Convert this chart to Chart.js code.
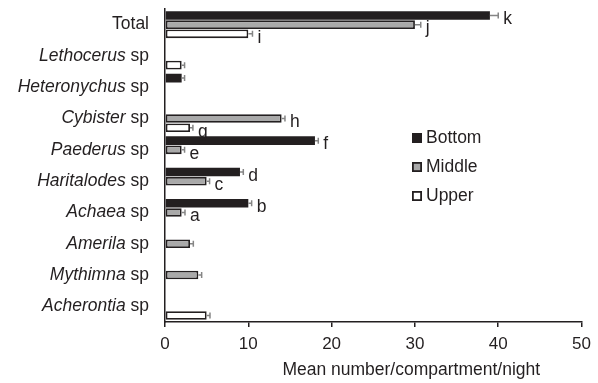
<!DOCTYPE html>
<html><head><meta charset="utf-8">
<script src="https://cdn.jsdelivr.net/npm/chart.js@4"></script>
<style>html,body{margin:0;padding:0;background:#fff}#wrap{width:598px;height:383px;position:relative}</style>
</head><body><div id="wrap"><canvas id="c"></canvas></div>
<script>
const categories = ['Total','Lethocerus sp','Heteronychus sp','Cybister sp','Paederus sp','Haritalodes sp','Achaea sp','Amerila sp','Mythimna sp','Acherontia sp'];
const seriesNames = ['Bottom','Middle','Upper'];
const bottomValues = [39, null, 2, null, 18, 9, 10, null, null, null];
const middleValues = [30, null, null, 14, 2, 5, 2, 3, 4, null];
const upperValues = [10, 2, null, 3, null, null, null, null, null, 5];
const bottomErrors = [1.0, null, 0.35, null, 0.4, 0.4, 0.4, null, null, null];
const middleErrors = [0.7, null, null, 0.4, 0.35, 0.35, 0.4, 0.4, 0.4, null];
const upperErrors = [0.5, 0.35, null, 0.35, null, null, null, null, null, 0.4];
const bottomLetters = ['k', '', '', '', 'f', 'd', 'b', '', '', ''];
const middleLetters = ['j', '', '', 'h', 'e', 'c', 'a', '', '', ''];
const upperLetters = ['i', '', '', 'g', '', '', '', '', '', ''];
const xMin = 0, xMax = 50, xStep = 10;
const xTitle = 'Mean number/compartment/night';

const INK = '#231f20';
const FONT = "'Liberation Sans', Arial, Helvetica, sans-serif";
const FS = 17.5;

const errorsBySeries = [bottomErrors, middleErrors, upperErrors];
const lettersBySeries = [bottomLetters, middleLetters, upperLetters];

const overlay = {
  id: 'overlay',
  afterDatasetsDraw(chart) {
    const ctx = chart.ctx;
    const xs = chart.scales.x;
    chart.data.datasets.forEach((ds, i) => {
      const meta = chart.getDatasetMeta(i);
      ds.data.forEach((v, j) => {
        if (v === null || v === undefined) return;
        const bar = meta.data[j];
        const err = errorsBySeries[i][j] || 0;
        const y = bar.y;
        const x0 = bar.x;
        const x1 = xs.getPixelForValue(v + err);
        ctx.save();
        ctx.strokeStyle = '#858585';
        ctx.lineWidth = 1.5;
        ctx.beginPath();
        ctx.moveTo(x0, y); ctx.lineTo(x1, y);
        ctx.moveTo(x1, y - 3); ctx.lineTo(x1, y + 3);
        ctx.stroke();
        const letter = lettersBySeries[i][j];
        if (letter) {
          ctx.fillStyle = INK;
          ctx.font = FS + 'px ' + FONT;
          ctx.textAlign = 'left';
          ctx.textBaseline = 'middle';
          ctx.fillText(letter, x1 + 5, y + 4);
        }
        ctx.restore();
      });
    });
  },
  afterDraw(chart) {
    const ctx = chart.ctx;
    const ys = chart.scales.y;
    const ca = chart.chartArea;
    ctx.save();
    ctx.fillStyle = INK;
    ctx.textBaseline = 'middle';
    categories.forEach((lab, i) => {
      const y = ys.getPixelForValue(i);
      const right = ca.left - 16;
      if (lab.endsWith(' sp')) {
        const genus = lab.slice(0, -3);
        ctx.font = 'italic ' + FS + 'px ' + FONT;
        const wg = ctx.measureText(genus).width;
        ctx.font = FS + 'px ' + FONT;
        const ws = ctx.measureText(' sp').width;
        const start = right - wg - ws;
        ctx.textAlign = 'left';
        ctx.font = 'italic ' + FS + 'px ' + FONT;
        ctx.fillText(genus, start, y);
        ctx.font = FS + 'px ' + FONT;
        ctx.fillText(' sp', start + wg, y);
      } else {
        ctx.font = FS + 'px ' + FONT;
        ctx.textAlign = 'right';
        ctx.fillText(lab, right, y);
      }
    });
    const lx = 412, ly0 = 138, lstep = 29;
    chart.data.datasets.forEach((ds, i) => {
      const y = ly0 + i * lstep;
      ctx.fillStyle = ds.backgroundColor;
      ctx.fillRect(lx, y - 5, 10, 10);
      if (ds.borderWidth) {
        ctx.strokeStyle = INK;
        ctx.lineWidth = 1.8;
        ctx.strokeRect(lx + 0.9, y - 4.1, 8.2, 8.2);
      }
      ctx.fillStyle = INK;
      ctx.font = FS + 'px ' + FONT;
      ctx.textAlign = 'left';
      ctx.fillText(ds.label, lx + 14, y);
    });
    ctx.font = FS + 'px ' + FONT;
    ctx.textAlign = 'center';
    ctx.fillText(xTitle, (ca.left + ca.right) / 2 + 38, 370);
    ctx.restore();
  }
};

new Chart(document.getElementById('c'), {
  type: 'bar',
  data: {
    labels: categories,
    datasets: [
      { label: seriesNames[0], data: bottomValues, backgroundColor: INK, borderWidth: 0 },
      { label: seriesNames[1], data: middleValues, backgroundColor: '#a9a9a9', borderColor: INK, borderWidth: 1.8, borderSkipped: false },
      { label: seriesNames[2], data: upperValues, backgroundColor: '#ffffff', borderColor: INK, borderWidth: 1.8, borderSkipped: false }
    ]
  },
  options: {
    indexAxis: 'y',
    responsive: true,
    maintainAspectRatio: false,
    animation: false,
    devicePixelRatio: 1,
    categoryPercentage: 0.88,
    barPercentage: 0.94,
    layout: { padding: { top: 9, right: 16, left: 0, bottom: 0 } },
    plugins: { legend: { display: false }, tooltip: { enabled: false } },
    scales: {
      x: {
        min: xMin, max: xMax,
        ticks: { stepSize: xStep, color: INK, font: { family: FONT, size: 17 }, padding: 7, maxRotation: 0 },
        grid: { drawOnChartArea: false, drawTicks: true, tickLength: 5, color: INK, lineWidth: 1.5 },
        border: { display: true, color: INK, width: 1.5 },
        afterFit(s) { s.height = 61; }
      },
      y: {
        z: 1,
        ticks: { display: false },
        grid: { drawOnChartArea: false, drawTicks: false },
        border: { display: true, color: INK, width: 1.5 },
        afterFit(s) { s.width = 165; }
      }
    }
  },
  plugins: [overlay]
});
</script>
</body></html>
